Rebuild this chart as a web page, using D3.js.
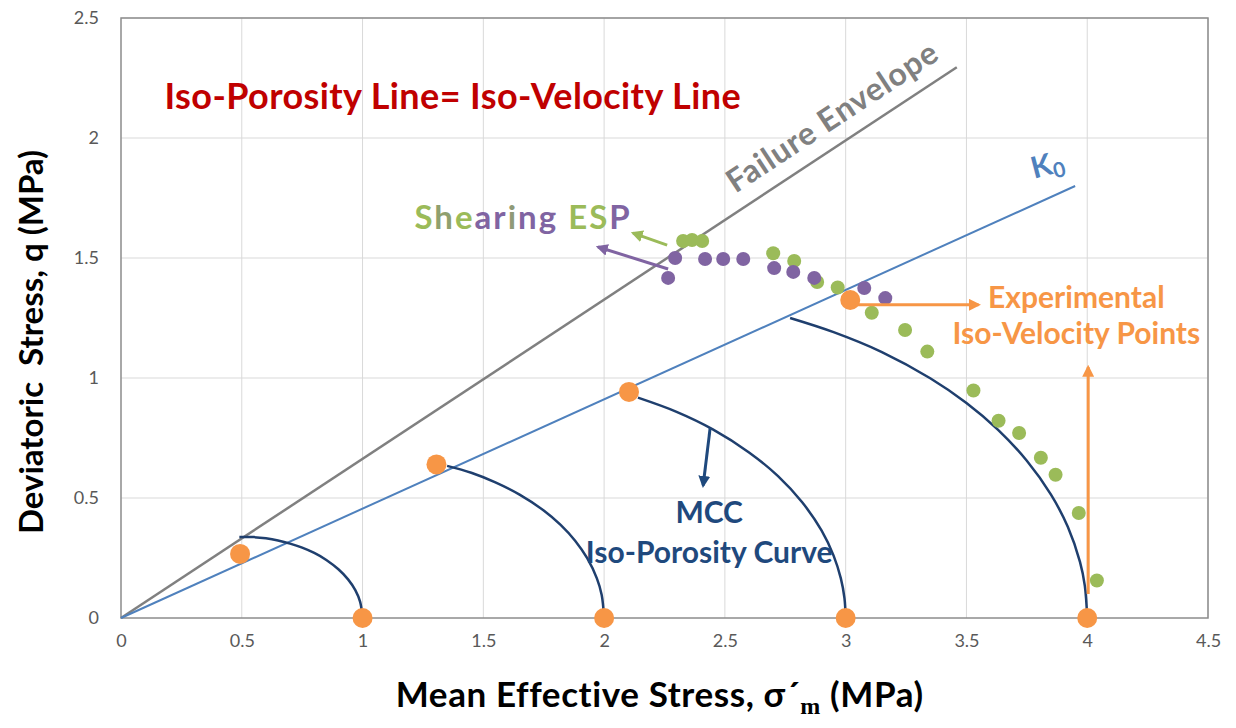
<!DOCTYPE html>
<html>
<head>
<meta charset="utf-8">
<script src="https://cdn.jsdelivr.net/npm/d3@7/dist/d3.min.js"></script>
<style>
  body { margin: 0; background: #fff; }
  text { font-family: Lato, "Open Sans", sans-serif; }
</style>
</head>
<body>
<script>
// tick labels
var xTicks = [0, 0.5, 1, 1.5, 2, 2.5, 3, 3.5, 4, 4.5];
var yTicks = [0, 0.5, 1, 1.5, 2, 2.5];

// shearing effective stress paths (p', q)
var greenP = [2.327, 2.364, 2.406, 2.70, 2.787, 2.882, 2.967, 3.108, 3.246, 3.338, 3.529, 3.633, 3.718, 3.808, 3.869, 3.965, 4.04];
var greenQ = [1.571, 1.575, 1.571, 1.52, 1.488, 1.40, 1.377, 1.272, 1.20, 1.11, 0.948, 0.822, 0.771, 0.668, 0.597, 0.4375, 0.156];
var purpleP = [2.265, 2.294, 2.418, 2.493, 2.576, 2.704, 2.783, 2.87, 3.077, 3.164];
var purpleQ = [1.417, 1.50, 1.496, 1.496, 1.496, 1.458, 1.442, 1.417, 1.375, 1.333];

// experimental iso-velocity points
var orangeP = [0.493, 1.306, 2.103, 3.019, 1, 2, 3, 4];
var orangeQ = [0.267, 0.640, 0.942, 1.325, 0, 0, 0, 0];

// straight lines
var failureP = [0, 3.46];
var failureQ = [0, 2.295];
var k0P = [0, 3.95];
var k0Q = [0, 1.80];

// MCC iso-porosity curves
var mcc1P = [0.49, 0.55, 0.6, 0.65, 0.7, 0.75, 0.8, 0.85, 0.9, 0.94, 0.97, 0.99, 1.0];
var mcc1Q = [0.338, 0.337, 0.332, 0.323, 0.310, 0.293, 0.271, 0.242, 0.203, 0.161, 0.116, 0.067, 0];
var mcc2P = [1.35, 1.45, 1.55, 1.65, 1.75, 1.82, 1.88, 1.93, 1.97, 1.99, 2.0];
var mcc2Q = [0.634, 0.605, 0.565, 0.514, 0.448, 0.388, 0.322, 0.249, 0.165, 0.096, 0];
var mcc3P = [2.14, 2.3, 2.45, 2.6, 2.72, 2.82, 2.9, 2.95, 2.98, 2.995, 3.0];
var mcc3Q = [0.918, 0.859, 0.786, 0.690, 0.591, 0.482, 0.365, 0.260, 0.165, 0.083, 0];
var mcc4P = [2.77, 2.95, 3.15, 3.35, 3.5, 3.63, 3.75, 3.85, 3.92, 3.97, 3.99, 4.0];
var mcc4Q = [1.25, 1.191, 1.108, 0.999, 0.896, 0.785, 0.655, 0.514, 0.379, 0.234, 0.135, 0];

var width = 1236;
var height = 728;
var margin = { left: 121, right: 28, top: 18, bottom: 110 };

var x = d3.scaleLinear().domain([0, 4.5]).range([margin.left, width - margin.right]);
var y = d3.scaleLinear().domain([0, 2.5]).range([height - margin.bottom, margin.top]);

var zip = function (a, b) { return a.map(function (d, i) { return [d, b[i]]; }); };

var svg = d3.select("body").append("svg").attr("width", width).attr("height", height);

var defs = svg.append("defs");
function marker(id, color) {
    defs.append("marker")
        .attr("id", id)
        .attr("viewBox", "0 0 10 10")
        .attr("refX", 8).attr("refY", 5)
        .attr("markerWidth", 4).attr("markerHeight", 4)
        .attr("orient", "auto")
        .append("path").attr("d", "M0,0 L10,5 L0,10 z").attr("fill", color);
}
marker("arOrange", "#F79646");
marker("arGreen", "#9BBB59");
marker("arPurple", "#8064A2");
marker("arNavy", "#1F497D");

// gridlines
svg.append("g").attr("class", "grid")
    .selectAll("line.v").data(xTicks.slice(1)).enter().append("line")
    .attr("x1", function (d) { return x(d); }).attr("x2", function (d) { return x(d); })
    .attr("y1", y(0)).attr("y2", y(2.5))
    .attr("stroke", "#d9d9d9").attr("stroke-width", 1);
svg.append("g").attr("class", "grid")
    .selectAll("line.h").data(yTicks.slice(1)).enter().append("line")
    .attr("x1", x(0)).attr("x2", x(4.5))
    .attr("y1", function (d) { return y(d); }).attr("y2", function (d) { return y(d); })
    .attr("stroke", "#d9d9d9").attr("stroke-width", 1);

// plot frame
svg.append("rect")
    .attr("x", x(0)).attr("y", y(2.5))
    .attr("width", x(4.5) - x(0)).attr("height", y(0) - y(2.5))
    .attr("fill", "none").attr("stroke", "#8c8c8c").attr("stroke-width", 1.5);

// axes
var xAxis = svg.append("g").attr("transform", "translate(0," + y(0) + ")")
    .call(d3.axisBottom(x).tickValues(xTicks).tickSize(0).tickPadding(16).tickFormat(d3.format("")));
var yAxis = svg.append("g").attr("transform", "translate(" + x(0) + ",0)")
    .call(d3.axisLeft(y).tickValues(yTicks).tickSize(0).tickPadding(22).tickFormat(d3.format("")));
[xAxis, yAxis].forEach(function (a) {
    a.select(".domain").remove();
    a.selectAll("text").attr("font-size", 18).attr("fill", "#595959")
        .attr("font-family", "Lato, sans-serif");
});

var line = d3.line().x(function (d) { return x(d[0]); }).y(function (d) { return y(d[1]); });

// failure envelope and K0 lines
svg.append("path").attr("d", line(zip(failureP, failureQ)))
    .attr("stroke", "#808080").attr("stroke-width", 2.5).attr("fill", "none");
svg.append("path").attr("d", line(zip(k0P, k0Q)))
    .attr("stroke", "#4F81BD").attr("stroke-width", 2).attr("fill", "none");

// MCC curves
var curve = d3.line().x(function (d) { return x(d[0]); }).y(function (d) { return y(d[1]); })
    .curve(d3.curveCatmullRom.alpha(0.5));
[[mcc1P, mcc1Q], [mcc2P, mcc2Q], [mcc3P, mcc3Q], [mcc4P, mcc4Q]].forEach(function (c) {
    svg.append("path").attr("d", curve(zip(c[0], c[1])))
        .attr("stroke", "#1F3F6E").attr("stroke-width", 2.5).attr("fill", "none");
});

// shearing ESP points
svg.append("g").selectAll("circle").data(zip(greenP, greenQ)).enter().append("circle")
    .attr("cx", function (d) { return x(d[0]); }).attr("cy", function (d) { return y(d[1]); })
    .attr("r", 7).attr("fill", "#9BBB59");
svg.append("g").selectAll("circle").data(zip(purpleP, purpleQ)).enter().append("circle")
    .attr("cx", function (d) { return x(d[0]); }).attr("cy", function (d) { return y(d[1]); })
    .attr("r", 7).attr("fill", "#8064A2");

// iso-velocity points
svg.append("g").selectAll("circle").data(zip(orangeP, orangeQ)).enter().append("circle")
    .attr("cx", function (d) { return x(d[0]); }).attr("cy", function (d) { return y(d[1]); })
    .attr("r", 10).attr("fill", "#F79646");

// arrows
function arrow(p1, q1, p2, q2, color, id, w) {
    svg.append("line")
        .attr("x1", x(p1)).attr("y1", y(q1)).attr("x2", x(p2)).attr("y2", y(q2))
        .attr("stroke", color).attr("stroke-width", w).attr("marker-end", "url(#" + id + ")");
}
arrow(2.261, 1.554, 2.12, 1.604, "#9BBB59", "arGreen", 3);
arrow(2.265, 1.454, 1.975, 1.546, "#8064A2", "arPurple", 3);
arrow(2.439, 0.792, 2.41, 0.552, "#1F497D", "arNavy", 3);
arrow(3.04, 1.305, 3.55, 1.305, "#F79646", "arOrange", 3);
arrow(4.004, 0.10, 4.004, 1.045, "#F79646", "arOrange", 3);

// annotations
svg.append("text").attr("x", x(0.18)).attr("y", y(2.12))
    .attr("font-size", 36).attr("font-weight", "bold").attr("fill", "#C00000")
    .attr("letter-spacing", 0.4)
    .text("Iso-Porosity Line= Iso-Velocity Line");

var failAngle = Math.atan2(y(failureQ[1]) - y(0), x(failureP[1]) - x(0)) * 180 / Math.PI;
svg.append("text")
    .attr("transform", "translate(" + x(2.97) + "," + y(2.05) + ") rotate(" + failAngle + ")")
    .attr("text-anchor", "middle").attr("font-size", 32).attr("font-weight", "bold").attr("fill", "#808080")
    .attr("letter-spacing", 0.8)
    .text("Failure Envelope");

var k0Angle = Math.atan2(y(k0Q[1]) - y(0), x(k0P[1]) - x(0)) * 180 / Math.PI;
var k0Label = svg.append("text")
    .attr("transform", "translate(" + x(3.78) + "," + y(1.83) + ") rotate(" + (k0Angle * 0.6) + ")")
    .attr("font-size", 30).attr("font-weight", "bold").attr("fill", "#4F81BD");
k0Label.append("tspan").text("K");
k0Label.append("tspan").attr("font-size", 21).attr("dy", 5).text("0");

var shear = svg.append("text").attr("x", x(1.215)).attr("y", y(1.62))
    .attr("font-size", 33).attr("font-weight", "bold").attr("letter-spacing", 2);
var shearLetters = ["S", "h", "e", "a", "r", "i", "n", "g", " ", "E", "S", "P"];
var shearColors = ["#9BBB59", "#8FA06F", "#9BBB59", "#8064A2", "#8064A2", "#8F9A78", "#8064A2", "#8064A2", "#9BBB59", "#9BBB59", "#9BBB59", "#8064A2"];
shearLetters.forEach(function (c, i) {
    shear.append("tspan").attr("fill", shearColors[i]).text(c);
});

svg.append("text").attr("x", x(2.435)).attr("y", y(0.395)).attr("text-anchor", "middle")
    .attr("font-size", 30).attr("font-weight", "bold").attr("fill", "#1F497D").text("MCC");
svg.append("text").attr("x", x(2.435)).attr("y", y(0.23)).attr("text-anchor", "middle")
    .attr("font-size", 30).attr("font-weight", "bold").attr("fill", "#1F497D").text("Iso-Porosity Curve");

svg.append("text").attr("x", x(3.955)).attr("y", y(1.29)).attr("text-anchor", "middle")
    .attr("font-size", 30).attr("font-weight", "bold").attr("fill", "#F79646").text("Experimental");
svg.append("text").attr("x", x(3.955)).attr("y", y(1.14)).attr("text-anchor", "middle")
    .attr("font-size", 30).attr("font-weight", "bold").attr("fill", "#F79646").text("Iso-Velocity Points");

// axis titles
var xTitle = svg.append("text").attr("x", x(2.23)).attr("y", 707).attr("text-anchor", "middle")
    .attr("font-size", 35).attr("font-weight", "bold").attr("fill", "#000").attr("letter-spacing", 0.6);
xTitle.append("tspan").text("Mean Effective Stress, \u03c3\u00b4");
xTitle.append("tspan").attr("font-size", 24).attr("dy", 7).attr("font-family", "Liberation Serif, serif").text("m");
xTitle.append("tspan").attr("dy", -7).text(" (MPa)");

svg.append("text")
    .attr("transform", "translate(43," + y(1.15) + ") rotate(-90)")
    .attr("text-anchor", "middle").attr("font-size", 33).attr("font-weight", "bold").attr("fill", "#000")
    .attr("xml:space", "preserve").style("white-space", "pre")
    .text("Deviatoric  Stress, q (MPa)");
</script>
</body>
</html>
